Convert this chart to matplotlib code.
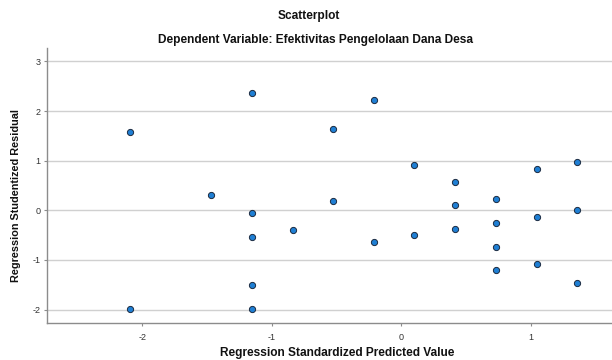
import matplotlib
matplotlib.use("Agg")
import matplotlib.pyplot as plt

plt.rcParams['font.family'] = ['Liberation Sans', 'DejaVu Sans']

predicted = [-2.10, -2.10, -1.47, -1.15, -1.15, -1.15, -1.15, -1.15,
             -0.84, -0.53, -0.53, -0.21, -0.21, 0.10, 0.10,
             0.42, 0.42, 0.42, 0.73, 0.73, 0.73, 0.73,
             1.05, 1.05, 1.05, 1.36, 1.36, 1.36]
residual = [1.57, -1.99, 0.30, 2.36, -0.05, -0.54, -1.51, -1.99,
            -0.40, 1.63, 0.19, 2.22, -0.63, 0.92, -0.50,
            0.57, 0.10, -0.38, 0.23, -0.25, -0.73, -1.20,
            0.84, -0.13, -1.09, 0.98, 0.00, -1.46]
xticks = [-2, -1, 0, 1]
yticks = [-2, -1, 0, 1, 2, 3]

fig = plt.figure(figsize=(6.12, 3.6), dpi=100)
ax = fig.add_axes([0.0768, 0.1028, 0.9232, 0.7639])

ax.scatter(predicted, residual, s=20, facecolor='#1f7fd4', edgecolor='#1a2a40',
           linewidth=0.7, zorder=3)

ax.set_xlim(-2.738, 1.63)
ax.set_ylim(-2.27, 3.27)
ax.set_xticks(xticks)
ax.set_yticks(yticks)
ax.set_xticklabels([str(v) for v in xticks])
ax.set_yticklabels([str(v) for v in yticks])
ax.yaxis.grid(True, color='#d0d0d0', linewidth=1.0, zorder=0)
ax.set_axisbelow(True)

for s in ['top', 'right']:
    ax.spines[s].set_visible(False)
for s in ['left', 'bottom']:
    ax.spines[s].set_color('#8c8c8c')
    ax.spines[s].set_linewidth(1.0)
ax.tick_params(axis='both', colors='#8c8c8c', labelcolor='#333333',
               labelsize=6.5, length=2.5, width=0.8, pad=2.0)
ax.tick_params(axis='x', pad=5)

ax.set_xlabel('Regression Standardized Predicted Value', fontsize=8.6,
              fontweight='bold', color='#111111')
ax.xaxis.set_label_coords(0.514, -0.087)
ax.set_ylabel('Regression Studentized Residual', fontsize=7.8,
              fontweight='bold', color='#111111')
ax.yaxis.set_label_coords(-0.046, 0.462)

fig.text(0.505, 0.955, 'Scatterplot', ha='center', va='center',
         fontsize=8.6, fontweight='bold', color='#111111')
fig.text(0.516, 0.889, 'Dependent Variable: Efektivitas Pengelolaan Dana Desa',
         ha='center', va='center', fontsize=8.6, fontweight='bold', color='#111111')

fig.savefig('out.png', dpi=100)
